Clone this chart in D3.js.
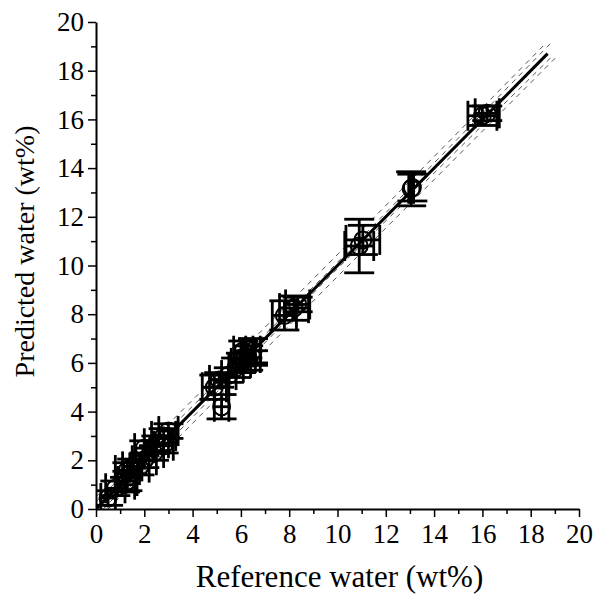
<!DOCTYPE html>
<html><head><meta charset="utf-8">
<script src="https://cdn.jsdelivr.net/npm/d3@7"></script>
<style>body{margin:0;background:#fff}svg{display:block}</style>
</head><body>
<svg id="c" width="600" height="594"></svg>
<script>
// Reference water (x), predicted water (y), x error, y error (wt%)
const refX  = [0.5,0.8,1.2,1.3,1.3,1.5,1.8,2.0,2.0,2.4,2.5,2.8,2.8,3.0, 4.9,5.1,5.2,5.5,5.8,6.0,6.1,6.3,6.5,6.5, 7.8,8.2,8.35, 10.9,11.05, 13.05,13.1, 16.0,16.2];
const predY = [0.45,0.85,1.0,1.15,1.6,1.75,1.7,2.0,2.5,2.3,2.7,2.6,3.0,3.2, 5.0,5.3,4.2,5.5,5.8,6.0,6.5,6.2,6.5,6.2, 7.95,8.25,8.4, 10.8,11.05, 13.15,13.2, 16.15,16.25];
const errX  = [0.3,0.4,0.4,0.4,0.5,0.4,0.4,0.5,0.4,0.4,0.5,0.4,0.5,0.4, 0.5,0.4,0.3,0.3,0.3,0.4,0.4,0.3,0.3,0.3, 0.5,0.6,0.5, 0.6,0.7, 0.1,0.05, 0.6,0.5];
const errY  = [0.3,0.3,0.3,0.4,0.3,0.3,0.3,0.3,0.3,0.3,0.3,0.3,0.3,0.3, 0.5,0.3,0.5,0.3,0.4,0.4,0.4,0.5,0.5,0.3, 0.6,0.5,0.3, 1.1,0.6, 0.7,0.55, 0.4,0.3];

const fitLine   = [[0,0],[18.7,18.7]];
const confUpper = [[0,0.3],[9.5,9.62],[18.8,19.1]];
const confLower = [[0.3,0],[9.5,9.38],[18.9,18.6]];
const predUpper = [[0,0.5],[9.5,9.95],[18.6,19.1]];
const predLower = [[0.5,0],[9.5,9.05],[19.1,18.6]];

const xTicks = [0,2,4,6,8,10,12,14,16,18,20];
const yTicks = [0,2,4,6,8,10,12,14,16,18,20];
const minorTicks = [1,3,5,7,9,11,13,15,17,19];

const W=600,H=594, m={l:96,r:21,t:22,b:85};
const svg=d3.select('#c');
const x=d3.scaleLinear().domain([0,20]).range([m.l,W-m.r]);
const y=d3.scaleLinear().domain([0,20]).range([H-m.b,m.t]);
const font='"Liberation Serif","Times New Roman",serif';

svg.append('clipPath').attr('id','pc').append('rect')
  .attr('x',m.l).attr('y',m.t-5).attr('width',W-m.r-m.l+10).attr('height',H-m.b-m.t+5);

const line=d3.line().x(d=>x(d[0])).y(d=>y(d[1]));
const g=svg.append('g').attr('clip-path','url(#pc)');
[confUpper,confLower,predUpper,predLower].forEach(b=>{
  g.append('path').attr('d',line(b)).attr('fill','none').attr('stroke','#555')
   .attr('stroke-width',1).attr('stroke-dasharray','5,5');
});
g.append('path').attr('d',line(fitLine)).attr('fill','none').attr('stroke','#000').attr('stroke-width',3);

const pts=refX.map((v,i)=>({x:v,y:predY[i],ex:errX[i],ey:errY[i]}));
const cap=15;
const eb=g.append('g').attr('stroke','#000').attr('stroke-width',2.8).attr('fill','none');
pts.forEach(p=>{
  const cx=x(p.x), cy=y(p.y);
  const x0=x(p.x-p.ex), x1=x(p.x+p.ex), y0=y(p.y-p.ey), y1=y(p.y+p.ey);
  eb.append('line').attr('x1',x0).attr('x2',x1).attr('y1',cy).attr('y2',cy);
  eb.append('line').attr('x1',x0).attr('x2',x0).attr('y1',cy-cap).attr('y2',cy+cap);
  eb.append('line').attr('x1',x1).attr('x2',x1).attr('y1',cy-cap).attr('y2',cy+cap);
  eb.append('line').attr('x1',cx).attr('x2',cx).attr('y1',y0).attr('y2',y1);
  eb.append('line').attr('x1',cx-cap).attr('x2',cx+cap).attr('y1',y0).attr('y2',y0);
  eb.append('line').attr('x1',cx-cap).attr('x2',cx+cap).attr('y1',y1).attr('y2',y1);
});
g.append('g').selectAll('circle').data(pts).join('circle')
  .attr('cx',d=>x(d.x)).attr('cy',d=>y(d.y)).attr('r',8.5)
  .attr('fill','none').attr('stroke','#000').attr('stroke-width',2);

// axes
const ax=svg.append('g').attr('transform',`translate(0,${H-m.b})`)
  .call(d3.axisBottom(x).tickValues(xTicks).tickSize(8).tickSizeOuter(0).tickPadding(7));
ax.append('g').call(d3.axisBottom(x).tickValues(minorTicks).tickSize(5).tickFormat(''));
const ay=svg.append('g').attr('transform',`translate(${m.l},0)`)
  .call(d3.axisLeft(y).tickValues(yTicks).tickSize(8).tickSizeOuter(0).tickPadding(4));
ay.append('g').call(d3.axisLeft(y).tickValues(minorTicks).tickSize(5).tickFormat(''));
svg.selectAll('.domain').attr('stroke','#000').attr('stroke-width',2);
svg.selectAll('.tick line').attr('stroke','#000').attr('stroke-width',1.5);
ax.attr('font-size',27).attr('font-family',font);
ay.attr('font-size',27).attr('font-family',font);
svg.selectAll('.tick text').style('font-family',font).style('font-size','27px').attr('fill','#000');
ax.selectAll('g > g .domain').remove();
ay.selectAll('g > g .domain').remove();

svg.append('text').attr('x',(m.l+W-m.r)/2+2).attr('y',587).attr('text-anchor','middle')
  .attr('font-family',font).attr('font-size',31).text('Reference water (wt%)');
svg.append('text').attr('transform',`translate(34,${(m.t+H-m.b)/2-14}) rotate(-90)`).attr('text-anchor','middle')
  .attr('font-family',font).attr('font-size',28).text('Predicted water (wt%)');
</script>
</body></html>
